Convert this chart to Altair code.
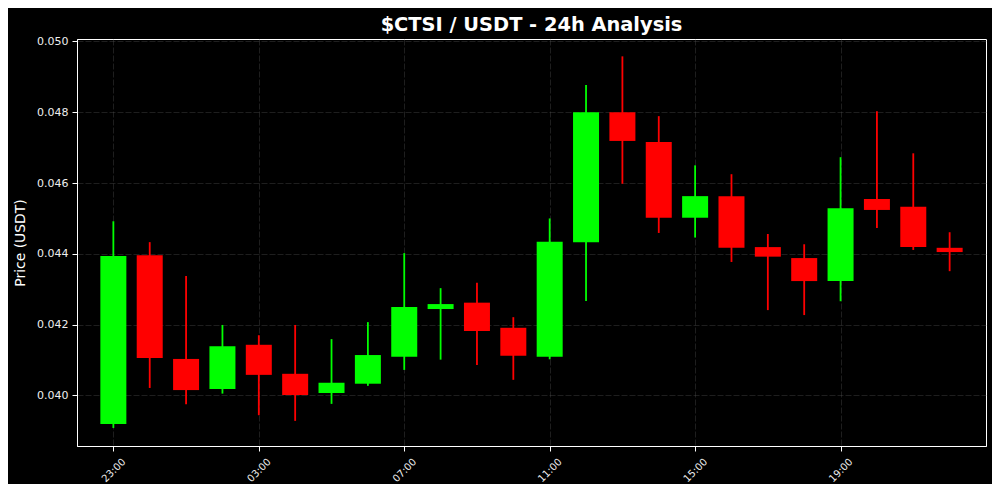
import altair as alt
import pandas as pd

# Hourly candles (UTC)
times = [
    "2024-05-01T23:00:00Z", "2024-05-02T00:00:00Z", "2024-05-02T01:00:00Z", "2024-05-02T02:00:00Z",
    "2024-05-02T03:00:00Z", "2024-05-02T04:00:00Z", "2024-05-02T05:00:00Z", "2024-05-02T06:00:00Z",
    "2024-05-02T07:00:00Z", "2024-05-02T08:00:00Z", "2024-05-02T09:00:00Z", "2024-05-02T10:00:00Z",
    "2024-05-02T11:00:00Z", "2024-05-02T12:00:00Z", "2024-05-02T13:00:00Z", "2024-05-02T14:00:00Z",
    "2024-05-02T15:00:00Z", "2024-05-02T16:00:00Z", "2024-05-02T17:00:00Z", "2024-05-02T18:00:00Z",
    "2024-05-02T19:00:00Z", "2024-05-02T20:00:00Z", "2024-05-02T21:00:00Z", "2024-05-02T22:00:00Z",
]
opens = [0.03919, 0.04396, 0.04103, 0.04018, 0.04143, 0.04061, 0.04007, 0.04033,
         0.04109, 0.04244, 0.04262, 0.04191, 0.04109, 0.04433, 0.04800, 0.04716,
         0.04502, 0.04563, 0.04419, 0.04388, 0.04323, 0.04555, 0.04533, 0.04417]
highs = [0.04492, 0.04433, 0.04337, 0.04199, 0.04170, 0.04199, 0.04159, 0.04207,
         0.04402, 0.04303, 0.04318, 0.04221, 0.04500, 0.04877, 0.04958, 0.04789,
         0.04650, 0.04625, 0.04456, 0.04427, 0.04673, 0.04803, 0.04684, 0.04461]
lows = [0.03908, 0.04021, 0.03975, 0.04005, 0.03944, 0.03928, 0.03976, 0.04027,
        0.04072, 0.04101, 0.04086, 0.04044, 0.04102, 0.04267, 0.04598, 0.04459,
        0.04446, 0.04377, 0.04241, 0.04227, 0.04266, 0.04473, 0.04411, 0.04351]
closes = [0.04394, 0.04106, 0.04015, 0.04139, 0.04058, 0.04001, 0.04036, 0.04114,
          0.04250, 0.04258, 0.04182, 0.04112, 0.04434, 0.04800, 0.04719, 0.04502,
          0.04563, 0.04417, 0.04392, 0.04323, 0.04529, 0.04524, 0.04419, 0.04405]

tick_labels = ["23:00", "03:00", "07:00", "11:00", "15:00", "19:00"]
y_ticks = [0.040, 0.042, 0.044, 0.046, 0.048, 0.050]
y_domain = [0.03857, 0.05007]

df = pd.DataFrame({"time": times, "open": opens, "high": highs, "low": lows, "close": closes})


def dt(label):
    h = int(label.split(":")[0])
    d = 1 if h == 23 else 2
    return alt.DateTime(year=2024, month=5, date=d, hours=h, utc=True)


x_values = [dt(t) for t in tick_labels]
x_domain = [alt.DateTime(year=2024, month=5, date=1, hours=22, utc=True),
            alt.DateTime(year=2024, month=5, date=2, hours=23, utc=True)]

color = alt.condition(alt.datum.close >= alt.datum.open, alt.value("#00ff00"), alt.value("#ff0000"))

x_enc = alt.X(
    "time:T",
    scale=alt.Scale(type="utc", domain=x_domain, padding=0),
    axis=alt.Axis(
        values=x_values, labelExpr="utcFormat(datum.value, '%H:%M')", title=None,
        labelAngle=-45, labelAlign="center", labelBaseline="middle", labelPadding=19,
        labelFontSize=10, tickSize=5,
    ),
)
y_axis = alt.Axis(values=y_ticks, format=".3f", title="Price (USDT)", tickSize=5,
                  labelPadding=4, titlePadding=9)
y_scale = alt.Scale(domain=y_domain, nice=False, zero=False, padding=0)

base = alt.Chart(df).encode(x=x_enc, color=color)
wicks = base.mark_rule(strokeWidth=1.8).encode(
    y=alt.Y("low:Q", scale=y_scale, axis=y_axis), y2="high:Q")
bodies = base.mark_bar(size=26).encode(
    y=alt.Y("open:Q", scale=y_scale, axis=y_axis), y2="close:Q")

chart = (
    alt.layer(wicks, bodies)
    .properties(
        width=909, height=407,
        autosize=alt.AutoSizeParams(type="none"),
        padding={"left": 69, "top": 31, "right": 6, "bottom": 38},
        title=alt.TitleParams(
            "$CTSI / USDT - 24h Analysis", color="white", font="DejaVu Sans",
            fontSize=19.4, fontWeight="bold", anchor="middle", frame="group",
            offset=0,
        ),
    )
    .configure(background="black")
    .configure_view(stroke="white", strokeWidth=1)
    .configure_axis(
        domainColor="white", tickColor="white", labelColor="#eeeeee", titleColor="white",
        labelFont="DejaVu Sans", titleFont="DejaVu Sans", labelFontSize=11,
        titleFontSize=13.9, titleFontWeight="normal",
        gridColor="#555555", gridDash=[6, 2], gridOpacity=0.45, gridWidth=0.8,
    )
)

chart.save("out.html", embed_options={"renderer": "svg", "actions": False})
